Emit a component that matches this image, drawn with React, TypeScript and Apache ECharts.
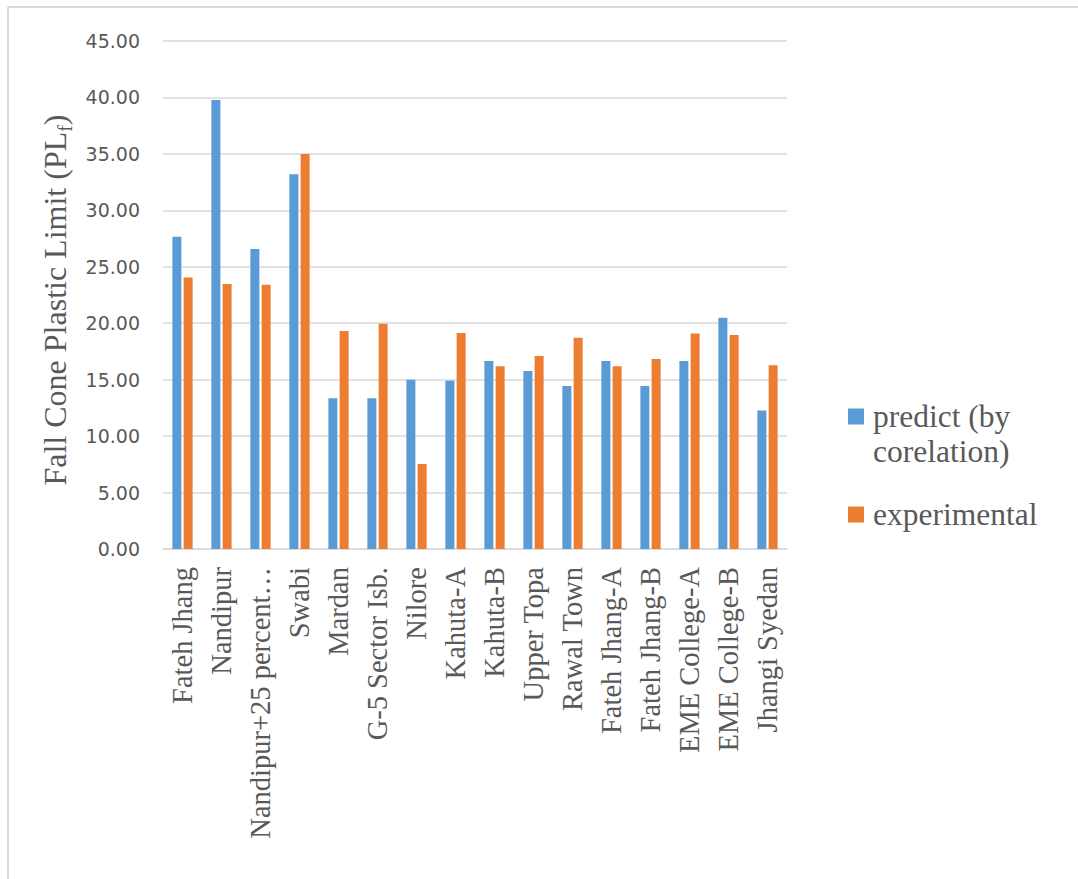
import React, { useEffect, useRef } from "react";
import * as echarts from "echarts";

// Sites tested
const categories = [
  "Fateh Jhang",
  "Nandipur",
  "Nandipur+25 percent…",
  "Swabi",
  "Mardan",
  "G-5 Sector Isb.",
  "Nilore",
  "Kahuta-A",
  "Kahuta-B",
  "Upper Topa",
  "Rawal Town",
  "Fateh Jhang-A",
  "Fateh Jhang-B",
  "EME College-A",
  "EME College-B",
  "Jhangi Syedan",
];

// Fall cone plastic limit values
const predicted = [27.65, 39.78, 26.57, 33.2, 13.35, 13.35, 15.0, 14.9, 16.65, 15.77, 14.44, 16.65, 14.44, 16.65, 20.49, 12.26];
const experimental = [24.06, 23.47, 23.4, 35.0, 19.31, 19.96, 7.54, 19.13, 16.18, 17.1, 18.72, 16.18, 16.83, 19.1, 18.96, 16.27];

const seriesNames = ["predict (by corelation)", "experimental"];
// leading blank line keeps the swatch level with the first text line
const legendLabels = ["\npredict (by\ncorelation)", "experimental"];

const yMin = 0;
const yMax = 45;
const yStep = 5;

const BLUE = "#5B9BD5";
const ORANGE = "#ED7D31";
const GREY_TEXT = "#595959";
const GRID_LINE = "#D9D9D9";
const SERIF = "'Liberation Serif', 'Times New Roman', serif";

export default function App() {
  const ref = useRef<HTMLDivElement>(null);

  useEffect(() => {
    if (!ref.current) return;
    const chart = echarts.init(ref.current, null, { renderer: "svg" });

    const legendText = {
      fontFamily: SERIF,
      fontSize: 31.5,
      color: GREY_TEXT,
      lineHeight: 35,
      padding: [0, 0, 0, 4],
    };

    chart.setOption({
      animation: false,
      backgroundColor: "#ffffff",
      graphic: [
        {
          type: "line",
          shape: { x1: 8, y1: 7, x2: 1078, y2: 7 },
          style: { stroke: GRID_LINE, lineWidth: 2 },
        },
        {
          type: "line",
          shape: { x1: 8, y1: 7, x2: 8, y2: 879 },
          style: { stroke: GRID_LINE, lineWidth: 2 },
        },
      ],
      grid: { left: 163, right: 291, top: 41, bottom: 330, containLabel: false },
      legend: [
        {
          orient: "vertical",
          left: 848,
          top: 364,
          padding: 0,
          itemWidth: 16,
          itemHeight: 16,
          icon: "rect",
          data: [seriesNames[0]],
          formatter: () => legendLabels[0],
          textStyle: legendText,
        },
        {
          orient: "vertical",
          left: 848,
          top: 497,
          padding: 0,
          itemWidth: 16,
          itemHeight: 16,
          icon: "rect",
          data: [seriesNames[1]],
          formatter: () => legendLabels[1],
          textStyle: legendText,
        },
      ],
      xAxis: {
        type: "category",
        data: categories,
        axisLine: { show: true, lineStyle: { color: GRID_LINE, width: 1.5 } },
        axisTick: { show: false },
        axisLabel: {
          rotate: 90,
          interval: 0,
          margin: 18,
          fontFamily: SERIF,
          fontSize: 28.5,
          color: GREY_TEXT,
        },
      },
      yAxis: {
        type: "value",
        min: yMin,
        max: yMax,
        interval: yStep,
        name: "{a|Fall Cone Plastic Limit (PL}{sub|f}{a|)}",
        nameLocation: "middle",
        nameRotate: 90,
        nameGap: 82,
        nameTextStyle: {
          color: GREY_TEXT,
          padding: [0, 10, 0, 0],
          rich: {
            a: { fontFamily: SERIF, fontSize: 32, color: GREY_TEXT, lineHeight: 40, verticalAlign: "middle" },
            sub: { fontFamily: SERIF, fontSize: 20, color: GREY_TEXT, lineHeight: 40, verticalAlign: "bottom" },
          },
        },
        axisLine: { show: false },
        axisTick: { show: false },
        splitLine: { lineStyle: { color: GRID_LINE, width: 1.5 } },
        axisLabel: {
          margin: 23,
          fontFamily: "'DejaVu Sans', sans-serif",
          fontSize: 19,
          color: GREY_TEXT,
          formatter: (v: number) => v.toFixed(2),
        },
      },
      series: [
        {
          name: seriesNames[0],
          type: "bar",
          data: predicted,
          barWidth: 9,
          barGap: "25%",
          itemStyle: { color: BLUE },
        },
        {
          name: seriesNames[1],
          type: "bar",
          data: experimental,
          barWidth: 9,
          barGap: "25%",
          itemStyle: { color: ORANGE },
        },
      ],
    });

    return () => chart.dispose();
  }, []);

  return (
    <div
      ref={ref}
      style={{ position: "absolute", left: 0, top: 0, width: 1078, height: 879 }}
    />
  );
}
